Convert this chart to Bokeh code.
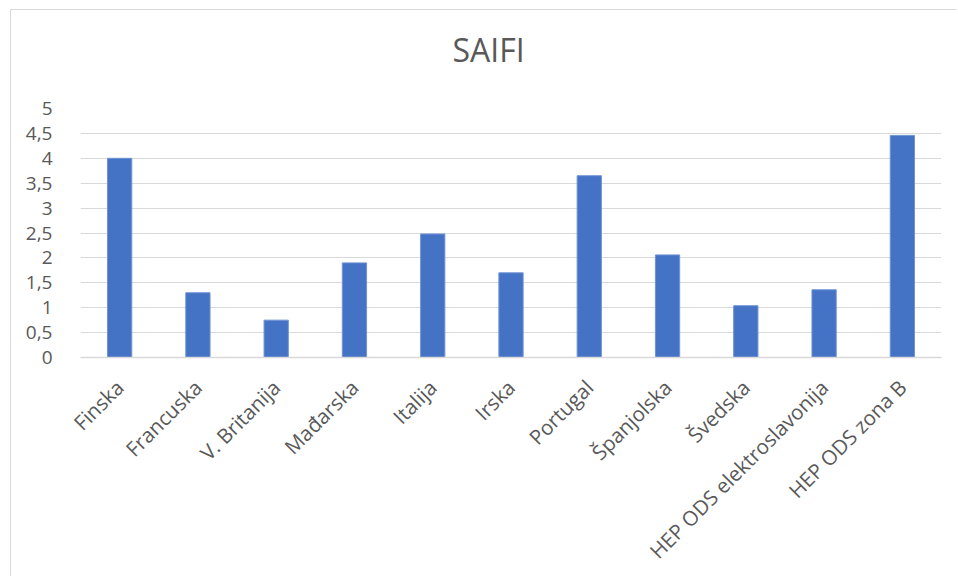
from bokeh.plotting import figure
from bokeh.models import FixedTicker, CustomJSTickFormatter, Title, FactorRange, ColumnDataSource
from bokeh.embed import file_html
from bokeh.resources import INLINE
import math

categories = ["Finska", "Francuska", "V. Britanija", "Mađarska", "Italija", "Irska",
              "Portugal", "Španjolska", "Švedska", "HEP ODS elektroslavonija", "HEP ODS zona B"]
saifi = [4.0, 1.3, 0.75, 1.9, 2.48, 1.7, 3.65, 2.06, 1.04, 1.36, 4.46]
y_ticks = [0, 0.5, 1, 1.5, 2, 2.5, 3, 3.5, 4, 4.5, 5]

FONT = "Open Sans"
GRAY = "#595959"

src = ColumnDataSource(dict(cat=categories, val=saifi))

p = figure(x_range=FactorRange(*categories, range_padding=0), y_range=(0, 5),
           width=946, height=567, output_backend="svg", toolbar_location=None,
           min_border_left=69, min_border_right=16, min_border_top=98, min_border_bottom=220)

p.vbar(x="cat", top="val", width=0.31, source=src, fill_color="#4472C4", line_color="#6F93D6", line_width=1)

p.title.text = "SAIFI"
p.title.align = "left"
p.title.offset = 372
p.title.text_font = FONT
p.title.text_font_size = "32px"
p.title.text_font_style = "normal"
p.title.text_color = GRAY
p.add_layout(Title(text=" ", text_font_size="19px"), "above")

p.outline_line_color = None
p.styles = {"border-left": "1px solid #D9D9D9", "border-top": "1px solid #D9D9D9",
            "margin-left": "10px", "margin-top": "9px"}

p.yaxis.ticker = FixedTicker(ticks=y_ticks)
p.yaxis.formatter = CustomJSTickFormatter(code="return tick.toString().replace('.', ',');")
p.yaxis.axis_line_color = None
p.yaxis.major_tick_line_color = None
p.yaxis.minor_tick_line_color = None
p.yaxis.major_label_text_font = FONT
p.yaxis.major_label_text_font_size = "19px"
p.yaxis.major_label_text_color = GRAY
p.yaxis.major_label_standoff = 22

p.xaxis.axis_line_color = "#D9D9D9"
p.xaxis.axis_line_width = 1.5
p.xaxis.major_tick_line_color = None
p.xaxis.minor_tick_line_color = None
p.xaxis.major_label_orientation = math.pi / 4
p.xaxis.major_label_text_font = FONT
p.xaxis.major_label_text_font_size = "20.5px"
p.xaxis.major_label_text_color = GRAY
p.xaxis.major_label_standoff = 20

p.xgrid.grid_line_color = None
p.ygrid.grid_line_color = "#D9D9D9"
p.ygrid.grid_line_width = 1.2

open("out.html", "w").write(file_html(p, INLINE))
